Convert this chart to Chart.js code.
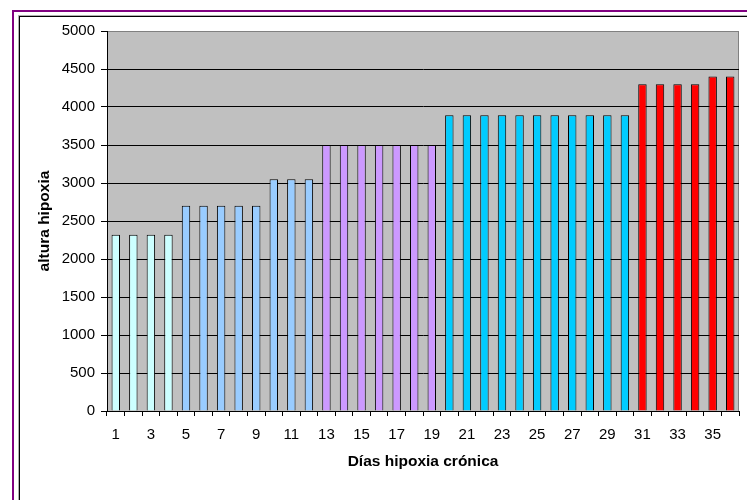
<!DOCTYPE html>
<html>
<head>
<meta charset="utf-8">
<script src="https://cdn.jsdelivr.net/npm/chart.js@4"></script>
<style>
  html, body { margin: 0; padding: 0; background: #fff; overflow: hidden; }
  #stage { position: relative; width: 747px; height: 500px; overflow: hidden; }
  .frame-outer { position: absolute; left: 12px; top: 10px; width: 900px; height: 700px;
    border-left: 2px solid #800080; border-top: 2px solid #800080; }
  .frame-shade { position: absolute; left: 18px; top: 15px; width: 900px; height: 700px;
    border-left: 1px solid #b0b0b0; border-top: 1px solid #b0b0b0; }
  .frame-inner { position: absolute; left: 19px; top: 16px; width: 900px; height: 700px;
    border-left: 1px solid #000; border-top: 1px solid #000; }
  canvas { position: absolute; left: 0; top: 0; }
</style>
</head>
<body>
<div id="stage">
  <div class="frame-outer"></div>
  <div class="frame-shade"></div>
  <div class="frame-inner"></div>
  <canvas id="chart" width="747" height="500"></canvas>
</div>
<script>
// Days of chronic hypoxia and the altitude (m) reached on each day
const days = Array.from({ length: 36 }, (_, i) => String(i + 1));
const altitude = [
  2320, 2320, 2320, 2320,
  2700, 2700, 2700, 2700, 2700,
  3050, 3050, 3050,
  3500, 3500, 3500, 3500, 3500, 3500, 3500,
  3890, 3890, 3890, 3890, 3890, 3890, 3890, 3890, 3890, 3890, 3890,
  4300, 4300, 4300, 4300, 4400, 4400
];
const yTicks = [0, 500, 1000, 1500, 2000, 2500, 3000, 3500, 4000, 4500, 5000];

// Fill colour per stage of the ascent (last day of each stage -> colour)
const stageColours = [
  { upTo: 4,  colour: '#CCFFFF' },
  { upTo: 12, colour: '#99CCFF' },
  { upTo: 19, colour: '#CC99FF' },
  { upTo: 30, colour: '#00CCFF' },
  { upTo: 36, colour: '#FF0000' }
];
const colourFor = (i) => stageColours.find(s => i + 1 <= s.upTo).colour;

const FONT = 'Liberation Sans, Arial, sans-serif';

const plotBackground = {
  id: 'plotBackground',
  beforeDraw(chart) {
    const { ctx, chartArea: a } = chart;
    ctx.save();
    ctx.fillStyle = '#C0C0C0';
    ctx.fillRect(a.left, a.top, a.right - a.left, a.bottom - a.top);
    ctx.strokeStyle = '#808080';
    ctx.lineWidth = 1;
    ctx.beginPath();
    ctx.moveTo(a.left, a.top + 0.5);
    ctx.lineTo(a.right - 0.5, a.top + 0.5);
    ctx.lineTo(a.right - 0.5, a.bottom);
    ctx.stroke();
    ctx.restore();
  }
};

new Chart(document.getElementById('chart'), {
  type: 'bar',
  data: {
    labels: days,
    datasets: [{
      data: altitude,
      backgroundColor: altitude.map((_, i) => colourFor(i)),
      borderColor: '#000',
      borderWidth: 1,
      barPercentage: 0.48,
      categoryPercentage: 1
    }]
  },
  options: {
    responsive: false,
    animation: false,
    devicePixelRatio: 1,
    layout: { padding: { left: 0, top: 31, right: 8, bottom: 0 } },
    plugins: { legend: { display: false }, tooltip: { enabled: false } },
    scales: {
      x: {
        offset: true,
        grid: { offset: true, drawOnChartArea: false, color: '#000', tickLength: 5, lineWidth: 1 },
        border: { color: '#000', width: 1 },
        ticks: {
          color: '#000', font: { family: FONT, size: 15 }, padding: 10,
          autoSkip: false, maxRotation: 0,
          callback: (v, i) => (i % 2 === 0 ? days[i] : '')
        },
        title: {
          display: true, text: 'Días hipoxia crónica', color: '#000',
          font: { family: FONT, size: 15.5, weight: 'bold' }, padding: { top: 0, bottom: 29 }
        },
        afterFit: (s) => { s.height = 89; }
      },
      y: {
        min: 0, max: 5000,
        afterBuildTicks: (s) => { s.ticks = yTicks.map(v => ({ value: v })); },
        grid: {
          color: (c) => (c.tick && c.tick.value === 5000 ? '#808080' : '#000'),
          tickColor: '#000', tickLength: 6, lineWidth: 1
        },
        border: { color: '#000', width: 1 },
        ticks: {
          color: '#000', font: { family: FONT, size: 15 }, padding: 6,
          callback: (v) => String(v)
        },
        title: {
          display: true, text: 'altura hipoxia', color: '#000',
          font: { family: FONT, size: 15.5, weight: 'bold' }, padding: { top: 35, bottom: 0 }
        },
        afterFit: (s) => { s.width = 107; }
      }
    }
  },
  plugins: [plotBackground]
});
</script>
</body>
</html>
